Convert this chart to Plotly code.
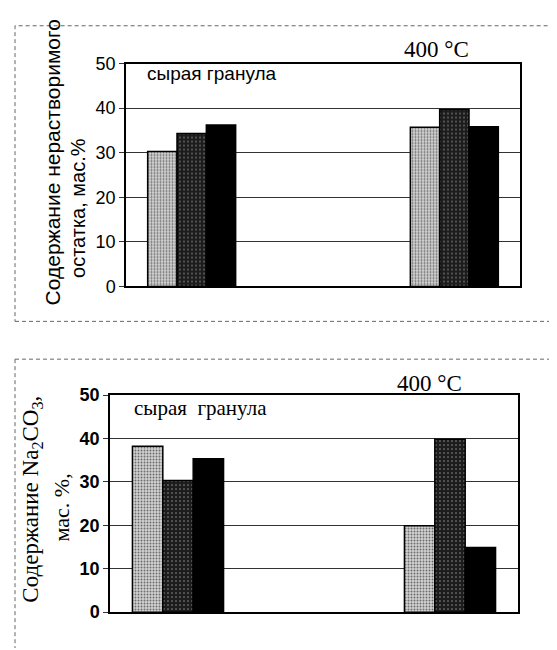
import plotly.graph_objects as go

W, H = 557, 650

# ---- data ----
categories = ["сырая гранула", "промежуток", "400 °C"]
top_series1 = [30.3, None, 35.7]
top_series2 = [34.3, None, 39.7]
top_series3 = [36.2, None, 35.8]
bot_series1 = [38.2, None, 19.9]
bot_series2 = [30.3, None, 39.8]
bot_series3 = [35.3, None, 14.9]
y_ticks = [0, 10, 20, 30, 40, 50]

SANS = "Liberation Sans, Arial, sans-serif"
SERIF = "Liberation Serif, Times New Roman, serif"

styles = [
    dict(color="#c4c4c4", pattern=dict(shape=".", bgcolor="#d4d4d4", fgcolor="#6a6a6a",
                                       size=3, solidity=0.35, fillmode="replace")),
    dict(color="#202020", pattern=dict(shape=".", bgcolor="#1c1c1c", fgcolor="#9a9a9a",
                                       size=4, solidity=0.12, fillmode="replace")),
    dict(color="#000000"),
]

fig = go.Figure()

for vals, st in zip([top_series1, top_series2, top_series3], styles):
    fig.add_trace(go.Bar(x=categories, y=vals, xaxis="x", yaxis="y",
                         marker=dict(**st, line=dict(color="black", width=1.5)),
                         showlegend=False))
for vals, st in zip([bot_series1, bot_series2, bot_series3], styles):
    fig.add_trace(go.Bar(x=categories, y=vals, xaxis="x2", yaxis="y2",
                         marker=dict(**st, line=dict(color="black", width=1.5)),
                         showlegend=False))

def px_x(p):
    return p / W

def px_y(p):
    return 1 - p / H

xcommon = dict(type="category", showticklabels=False, ticks="", showgrid=False,
               showline=True, linecolor="black", linewidth=1.5, mirror=True,
               fixedrange=True)
ycommon = dict(range=[0, 50], tickvals=y_ticks, showgrid=True, gridcolor="#333333",
               gridwidth=1, showline=True, linecolor="black", linewidth=1.5,
               mirror=True, ticks="outside", ticklen=5, tickcolor="#333333",
               zeroline=False, fixedrange=True)

fig.update_layout(
    width=W, height=H,
    margin=dict(l=0, r=0, t=0, b=0),
    paper_bgcolor="white", plot_bgcolor="white",
    barmode="group", bargap=0.33, bargroupgap=0,
    xaxis=dict(**xcommon, domain=[px_x(118), px_x(512)], anchor="y"),
    yaxis=dict(**ycommon, domain=[px_y(277), px_y(47)], anchor="x",
               tickfont=dict(family=SANS, size=18, color="black")),
    xaxis2=dict(**xcommon, domain=[px_x(102), px_x(510)], anchor="y2"),
    yaxis2=dict(**ycommon, domain=[px_y(613), px_y(389)], anchor="x2",
                tickfont=dict(family=SANS, size=18, color="black", weight="bold")),
)

annotations = [
    dict(x=px_x(428), y=px_y(33), text="400 °C", font=dict(family=SERIF, size=23)),
    dict(x=px_x(137), y=px_y(57), text="сырая гранула", xanchor="left",
         font=dict(family=SANS, size=19)),
    dict(x=px_x(44), y=px_y(149), text="Содержание нерастворимого",
         textangle=-90, font=dict(family=SANS, size=21)),
    dict(x=px_x(70), y=px_y(196), text="остатка, мас.%",
         textangle=-90, font=dict(family=SANS, size=20)),
    dict(x=px_x(421), y=px_y(377), text="400 °C", font=dict(family=SERIF, size=23)),
    dict(x=px_x(124), y=px_y(402), text="сырая  гранула", xanchor="left",
         font=dict(family=SERIF, size=21)),
    dict(x=px_x(24), y=px_y(497), text="Содержание Na<sub>2</sub>CO<sub>3</sub>,",
         textangle=-90, font=dict(family=SERIF, size=23)),
    dict(x=px_x(53), y=px_y(505), text="мас. %,",
         textangle=-90, font=dict(family=SERIF, size=22)),
]
for a in annotations:
    a.setdefault("xanchor", "center")
    a["font"]["color"] = "black"
    a.update(xref="paper", yref="paper", showarrow=False, yanchor="middle")
fig.update_layout(annotations=annotations)

dash = dict(color="#666666", width=1, dash="4px,3px")
shapes = [
    # top frame
    dict(type="rect", x0=px_x(7), x1=px_x(556), y0=px_y(313), y1=px_y(8), line=dash),
    # bottom frame (runs off the page at the bottom/right)
    dict(type="line", x0=px_x(7), x1=px_x(557), y0=px_y(352), y1=px_y(352), line=dash),
    dict(type="line", x0=px_x(7), x1=px_x(7), y0=px_y(352), y1=px_y(650), line=dash),
]
for s in shapes:
    s.update(xref="paper", yref="paper")
fig.update_layout(shapes=shapes)

fig.write_html("out.html")
